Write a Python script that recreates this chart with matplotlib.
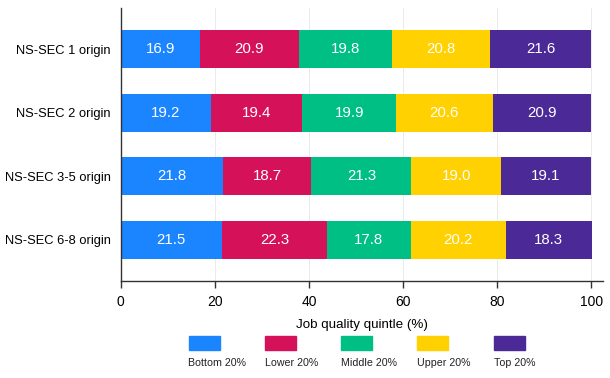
import numpy as np
import matplotlib
matplotlib.use("Agg")
import matplotlib.pyplot as plt
from matplotlib.patches import Rectangle

plt.rcParams.update({
    "font.family": ["Liberation Sans", "DejaVu Sans"],
    "font.size": 10,
})

origins = ["NS-SEC 1 origin", "NS-SEC 2 origin", "NS-SEC 3-5 origin", "NS-SEC 6-8 origin"]
quintiles = ["Bottom 20%", "Lower 20%", "Middle 20%", "Upper 20%", "Top 20%"]
bottom = [16.9, 19.2, 21.8, 21.5]
lower = [20.9, 19.4, 18.7, 22.3]
middle = [19.8, 19.9, 21.3, 17.8]
upper = [20.8, 20.6, 19.0, 20.2]
top = [21.6, 20.9, 19.1, 18.3]
x_ticks = [0, 20, 40, 60, 80, 100]

colors = ["#1a85ff", "#d41159", "#00bf84", "#ffd100", "#4b2997"]

fig = plt.figure(figsize=(6.10, 3.78), dpi=100)
ax = fig.add_axes([120.7 / 610, 1 - 281 / 378, (603 - 120.7) / 610, (281 - 8) / 378])

y = np.arange(len(origins))
left = np.zeros(len(origins))
for vals, col in zip([bottom, lower, middle, upper, top], colors):
    vals = np.array(vals)
    ax.barh(y, vals, left=left, height=0.6, color=col, zorder=2)
    for yi, l, v in zip(y, left, vals):
        ax.text(l + v / 2, yi, f"{v:.1f}", ha="center", va="center",
                color="white", fontsize=10.8, zorder=3)
    left += vals

ax.set_xlim(0, 102.5)
ax.set_ylim(3.65, -0.65)
ax.set_yticks(y)
ax.set_yticklabels(origins, fontsize=9.3)
ax.tick_params(axis="y", length=0, pad=7)
ax.set_xticks(x_ticks)
ax.tick_params(axis="x", length=5, width=1, color="#333333", labelsize=10, pad=5)
ax.set_xlabel("Job quality quintle (%)", fontsize=9.6, labelpad=7)
ax.grid(True, axis="x", color="#e6e6e6", linewidth=0.6, zorder=0)
ax.set_axisbelow(True)
for s in ["top", "right"]:
    ax.spines[s].set_visible(False)
for s in ["left", "bottom"]:
    ax.spines[s].set_color("#333333")
    ax.spines[s].set_linewidth(1)

# legend: swatches with labels beneath
lax = fig.add_axes([0, 0, 1, 1])
lax.set_xlim(0, 610)
lax.set_ylim(378, 0)
lax.axis("off")
for i, (lab, col) in enumerate(zip(quintiles, colors)):
    x0 = 188.5 + 76.25 * i
    lax.add_patch(Rectangle((x0, 336), 31, 14, color=col))
    lax.text(x0, 363, lab, ha="left", va="center", fontsize=7.7, color="#222222")

fig.savefig("out.png", dpi=100)
